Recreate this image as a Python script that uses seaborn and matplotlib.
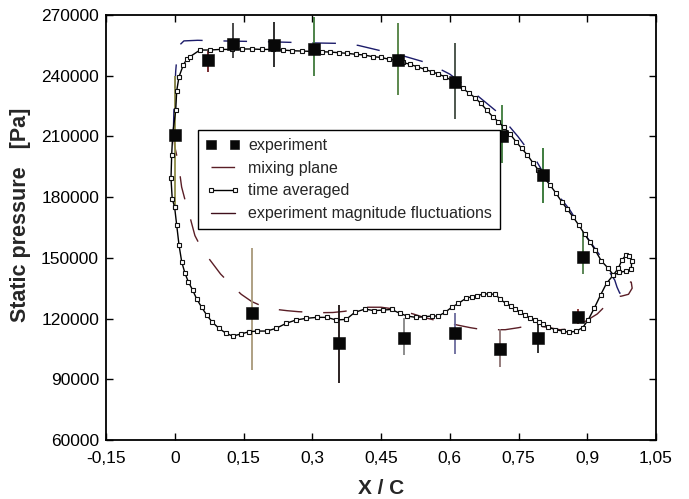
import matplotlib
matplotlib.use("Agg")
import matplotlib.pyplot as plt
from matplotlib.lines import Line2D
import seaborn as sns

sns.set_style("ticks")
plt.rcParams["font.family"] = ["Liberation Sans", "DejaVu Sans"]

# ---- axis ticks -------------------------------------------------------
xtick_vals = [-0.15, 0.0, 0.15, 0.3, 0.45, 0.6, 0.75, 0.9, 1.05]
xtick_labels = ["-0,15", "0", "0,15", "0,3", "0,45", "0,6", "0,75", "0,9", "1,05"]
ytick_vals = [60000, 90000, 120000, 150000, 180000, 210000, 240000, 270000]
ytick_labels = ["60000", "90000", "120000", "150000", "180000", "210000", "240000", "270000"]

# ---- experiment: static pressure with min/max fluctuation -------------
exp_x = [0.0, 0.0725, 0.126, 0.217, 0.303, 0.486, 0.6115, 0.714, 0.804, 0.891,
         0.168, 0.359, 0.500, 0.6115, 0.7097, 0.793, 0.880]
exp_p = [210500, 248000, 255500, 255000, 253000, 247800, 237000, 210000, 191000, 150600,
         122600, 107700, 110500, 113000, 104900, 110500, 120900]
exp_lo = [175000, 242000, 248700, 244500, 240000, 230500, 218600, 196900, 177200, 142200,
          94500, 88300, 102000, 102500, 96300, 103100, 117300]
exp_hi = [240000, 252000, 266000, 266500, 269000, 265900, 256000, 225500, 204100, 163000,
          155000, 126700, 120100, 122900, 115000, 117600, 124600]
bar_colors = ["#8f8c48", "#6e1e22", "#3a3a3a", "#1e1e1e", "#3f7a3a", "#4f7f3f", "#3f4a40",
              "#3d7b3a", "#2f722f", "#4e7d48",
              "#a8987a", "#1a1010", "#858585", "#6a6a9c", "#8c7272", "#222222", "#8a3030"]

# ---- time averaged solution (closed contour, LE -> PS -> TE -> SS -> LE) --
ta_x = [-0.0004, -0.0055, -0.0082, -0.0067, -0.0045, 0.0021, 0.0043, 0.0093, 0.0187, 0.026,
        0.0333, 0.055, 0.077, 0.100, 0.124, 0.146, 0.168, 0.190, 0.214, 0.236,
        0.255, 0.277, 0.299, 0.321, 0.339, 0.359, 0.3766, 0.3955, 0.4136, 0.432,
        0.4494, 0.468, 0.484, 0.497, 0.513, 0.529, 0.546, 0.5607, 0.575, 0.5897,
        0.609, 0.628, 0.643, 0.655, 0.6676, 0.6807, 0.6937, 0.706, 0.7184, 0.7315,
        0.7446, 0.757, 0.7693, 0.7824, 0.7933, 0.804, 0.8188, 0.832, 0.8443, 0.8566,
        0.8697, 0.882, 0.894, 0.906, 0.917, 0.931, 0.946, 0.957,
        0.968, 0.976, 0.984, 0.992, 0.997, 0.996, 0.985, 0.970, 0.957,
        0.942, 0.929, 0.915, 0.902, 0.890, 0.876, 0.861, 0.846, 0.830, 0.815,
        0.804, 0.795, 0.786, 0.775, 0.764, 0.753, 0.742, 0.733, 0.722, 0.710,
        0.699, 0.686, 0.673, 0.659, 0.648, 0.635, 0.619, 0.604, 0.590, 0.575,
        0.561, 0.544, 0.526, 0.507, 0.491, 0.473, 0.454, 0.435, 0.415, 0.393,
        0.374, 0.352, 0.332, 0.310, 0.286, 0.264, 0.243, 0.221, 0.2006, 0.180,
        0.162, 0.144, 0.1264, 0.112, 0.0966, 0.082, 0.0697, 0.0588, 0.048, 0.039,
        0.0296, 0.0224, 0.0152, 0.0093, 0.0043, -0.0004]
ta_p = [175260, 179070, 189300, 200800, 211000, 223050, 232600, 239500, 245300, 248100,
        249400, 252700, 252700, 253000, 253000, 253200, 253200, 253000, 253000, 252700,
        252360, 252200, 252050, 251900, 251700, 251370, 251050, 250560, 250230, 249400,
        249070, 248100, 247760, 246600, 245630, 244450, 243150, 241980, 240840, 239500,
        237040, 233770, 231300, 229130, 226360, 223050, 219740, 217270, 214500, 211190,
        207400, 204100, 200810, 196700, 193400, 190090, 185990, 181880, 177730, 173980,
        170000, 166000, 161800, 157800, 153900, 148400, 144800, 141500,
        145000, 149000, 151300, 151000, 148500, 144500, 143500, 142800, 141500,
        137400, 131600, 125000, 119300, 115500, 113800, 113200, 113800, 114600, 115650,
        117150, 118200, 119300, 120400, 121750, 123400, 124550, 126200, 127500, 129650,
        131970, 132200, 132100, 131300, 130800, 130000, 127500, 125550, 123100, 121250,
        121250, 120900, 120600, 121250, 122600, 124500, 124200, 123900, 124700, 123100,
        119600, 119300, 120600, 120600, 120100, 119270, 117630, 115160, 113830, 113830,
        113500, 112350, 111360, 112700, 115160, 118200, 121740, 125550, 129650, 134100,
        138200, 142300, 148030, 156330, 166200, 175260]

# ---- mixing plane solution, pressure side --------------------------------
mp_ps_x = [-0.003, -0.002, 0.000, 0.002, 0.005, 0.010, 0.020, 0.050, 0.100, 0.150,
           0.200, 0.250, 0.300, 0.354, 0.400, 0.450, 0.500, 0.553, 0.600, 0.650,
           0.703, 0.749, 0.790, 0.822, 0.862, 0.900, 0.930, 0.950, 0.960, 0.965,
           0.971, 0.980, 0.990]
mp_ps_p = [212000, 222000, 232000, 242000, 250000, 255000, 257200, 257500, 257200, 257000,
           256800, 256500, 256200, 256000, 255000, 252300, 249700, 246200, 240800, 232100,
           222200, 209900, 197500, 185200, 173700, 160000, 150500, 142500, 139000, 135500,
           132500, 134500, 138200]

# ---- mixing plane solution, suction side ---------------------------------
mp_ss_x = [-0.003, 0.000, 0.008, 0.015, 0.022, 0.029, 0.044, 0.060, 0.077, 0.100,
           0.120, 0.145, 0.168, 0.190, 0.219, 0.245, 0.270, 0.317, 0.345, 0.371,
           0.419, 0.450, 0.477, 0.520, 0.545, 0.571, 0.621, 0.645, 0.672, 0.721,
           0.750, 0.774, 0.811, 0.840, 0.870, 0.922, 0.945, 0.965, 0.975, 0.990,
           0.998, 0.996, 0.990]
mp_ss_p = [212000, 205000, 196800, 185000, 179000, 173700, 161000, 154000, 148900, 142000,
           137400, 132000, 128400, 126200, 124600, 123900, 123400, 122900, 123000, 123600,
           125600, 125600, 124800, 122300, 120500, 119000, 116600, 115500, 114500, 114500,
           115500, 116600, 115800, 114500, 115000, 122300, 127500, 130800, 131100, 132000,
           135000, 138000, 138200]

legend_labels = ["experiment", "mixing plane", "time averaged",
                 "experiment magnitude fluctuations"]

navy = "#1c1c6a"
dark_red = "#5a1e26"

fig = plt.figure(figsize=(6.89, 4.99), dpi=100)
ax = fig.add_axes([106 / 689, 1 - 440 / 499, 550 / 689, 425 / 499])

# mixing plane (long dashes)
sns.lineplot(x=mp_ps_x, y=mp_ps_p, sort=False, estimator=None, color=navy, lw=1.0, ax=ax)
ax.lines[-1].set_dashes((17, 15))
sns.lineplot(x=mp_ss_x, y=mp_ss_p, sort=False, estimator=None, color=dark_red, lw=1.0, ax=ax)
mp_line = ax.lines[-1]
mp_line.set_dashes((17, 15))

# experimental fluctuation range
ax.vlines(exp_x, exp_lo, exp_hi, colors=bar_colors, lw=1.3, zorder=3)

# time averaged contour
sns.lineplot(x=ta_x, y=ta_p, sort=False, estimator=None, color="black", lw=1.0,
             marker="s", markersize=3.0, markerfacecolor="white",
             markeredgecolor="#111111", markeredgewidth=0.8, ax=ax, zorder=4)
ta_line = ax.lines[-1]

# experimental points
sns.scatterplot(x=exp_x, y=exp_p, marker="s", s=78, color="#080808",
                edgecolor="#080808", linewidth=0.4, zorder=5, ax=ax)
exp_pts = ax.collections[-1]

ax.set_xlim(xtick_vals[0], xtick_vals[-1])
ax.set_ylim(ytick_vals[0], ytick_vals[-1])
ax.set_xticks(xtick_vals)
ax.set_xticklabels(xtick_labels)
ax.set_yticks(ytick_vals)
ax.set_yticklabels(ytick_labels)
ax.tick_params(direction="in", top=True, right=True, length=5, width=1.0,
               labelsize=12.5, colors="black")
ax.tick_params(axis="x", pad=8)
ax.tick_params(axis="y", pad=5)
for s in ax.spines.values():
    s.set_visible(True)
    s.set_linewidth(1.3)
    s.set_color("black")

ax.set_xlabel("X / C", fontsize=15, fontweight="bold", labelpad=9)
ax.set_ylabel("Static pressure   [Pa]", fontsize=15.5, fontweight="bold")
ax.yaxis.set_label_coords(-0.136, 0.53)

fluct_handle = Line2D([], [], color="#40101c", lw=1.0)
leg = ax.legend([exp_pts, mp_line, ta_line, fluct_handle], legend_labels,
                loc="upper left", bbox_to_anchor=(0.167, 0.729), borderaxespad=0,
                frameon=True, fancybox=False, edgecolor="black", framealpha=1,
                fontsize=11.5, handlelength=2.1, handletextpad=0.55,
                labelspacing=0.48, borderpad=0.5, scatterpoints=2, numpoints=2,
                scatteryoffsets=[0.5], markerscale=0.8)
leg.get_frame().set_linewidth(1.0)

fig.savefig("out.png", dpi=100)
